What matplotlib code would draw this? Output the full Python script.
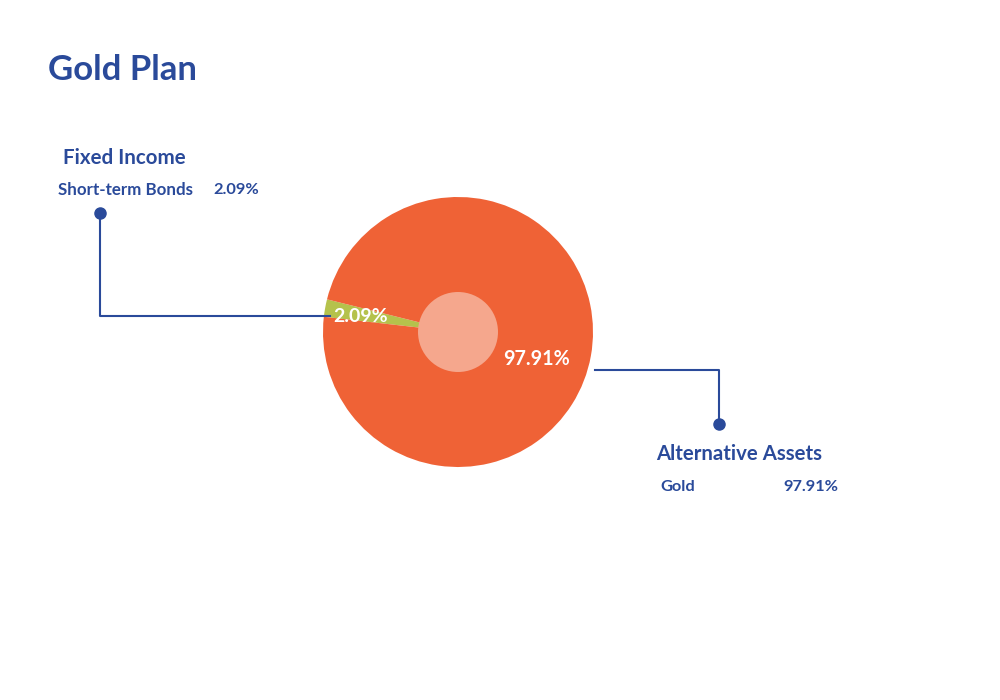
import matplotlib
matplotlib.use("Agg")
import matplotlib.pyplot as plt
from matplotlib.patches import Circle

title = "Gold Plan"
categories = ["Fixed Income", "Alternative Assets"]
subcategories = ["Short-term Bonds", "Gold"]
values = [2.09, 97.91]
colors = ["#B5C24C", "#EF6236"]

BLUE = "#2A4A9A"
FONT = ["Lato", "DejaVu Sans"]

fig = plt.figure(figsize=(10, 7), dpi=100)
ax = fig.add_axes([0, 0, 1, 1])

H = 700
cx, cy, r = 458, H - 332, 135

ax.pie(values, colors=colors, startangle=166, counterclock=True,
       center=(cx, cy), radius=r, frame=True,
       wedgeprops=dict(linewidth=0))
ax.set_xlim(0, 1000)
ax.set_ylim(0, 700)
ax.set_aspect("equal")
ax.axis("off")
ax.add_patch(Circle((cx, cy), 40, facecolor="#F5A78D", edgecolor="none", zorder=5))

# title
ax.text(48, H - 70, title, fontsize=25, fontweight="bold", color=BLUE,
        family=FONT, va="center", ha="left")

# left callout
ax.plot([100, 100, 330], [H - 213, H - 316, H - 316], color=BLUE, lw=1.5,
        solid_joinstyle="round", zorder=6)
ax.plot([100], [H - 213], "o", color=BLUE, ms=8, zorder=7)
ax.text(63, H - 158, categories[0], fontsize=14.8, fontweight="bold", color=BLUE,
        family=FONT, va="center", ha="left")
ax.text(58, H - 190, subcategories[0], fontsize=12.2, fontweight="bold", color=BLUE,
        family=FONT, va="center", ha="left")
ax.text(213, H - 190, f"{values[0]:.2f}%", fontsize=11.8, fontweight="bold", color=BLUE,
        family=FONT, va="center", ha="left")

# right callout
ax.plot([595, 719, 719], [H - 370, H - 370, H - 424], color=BLUE, lw=1.5,
        solid_joinstyle="round", zorder=6)
ax.plot([719], [H - 424], "o", color=BLUE, ms=8, zorder=7)
ax.text(656, H - 454, categories[1], fontsize=14.7, fontweight="bold", color=BLUE,
        family=FONT, va="center", ha="left")
ax.text(660, H - 487, subcategories[1], fontsize=11.8, fontweight="bold", color=BLUE,
        family=FONT, va="center", ha="left")
ax.text(783, H - 487, f"{values[1]:.2f}%", fontsize=11.8, fontweight="bold", color=BLUE,
        family=FONT, va="center", ha="left")

# in-pie labels
ax.text(333, H - 317, f"{values[0]:.2f}%", fontsize=14, fontweight="bold", color="white",
        family=FONT, va="center", ha="left", zorder=8)
ax.text(503, H - 359, f"{values[1]:.2f}%", fontsize=14.2, fontweight="bold", color="white",
        family=FONT, va="center", ha="left", zorder=8)

fig.savefig("out.png", dpi=100, facecolor="white")
